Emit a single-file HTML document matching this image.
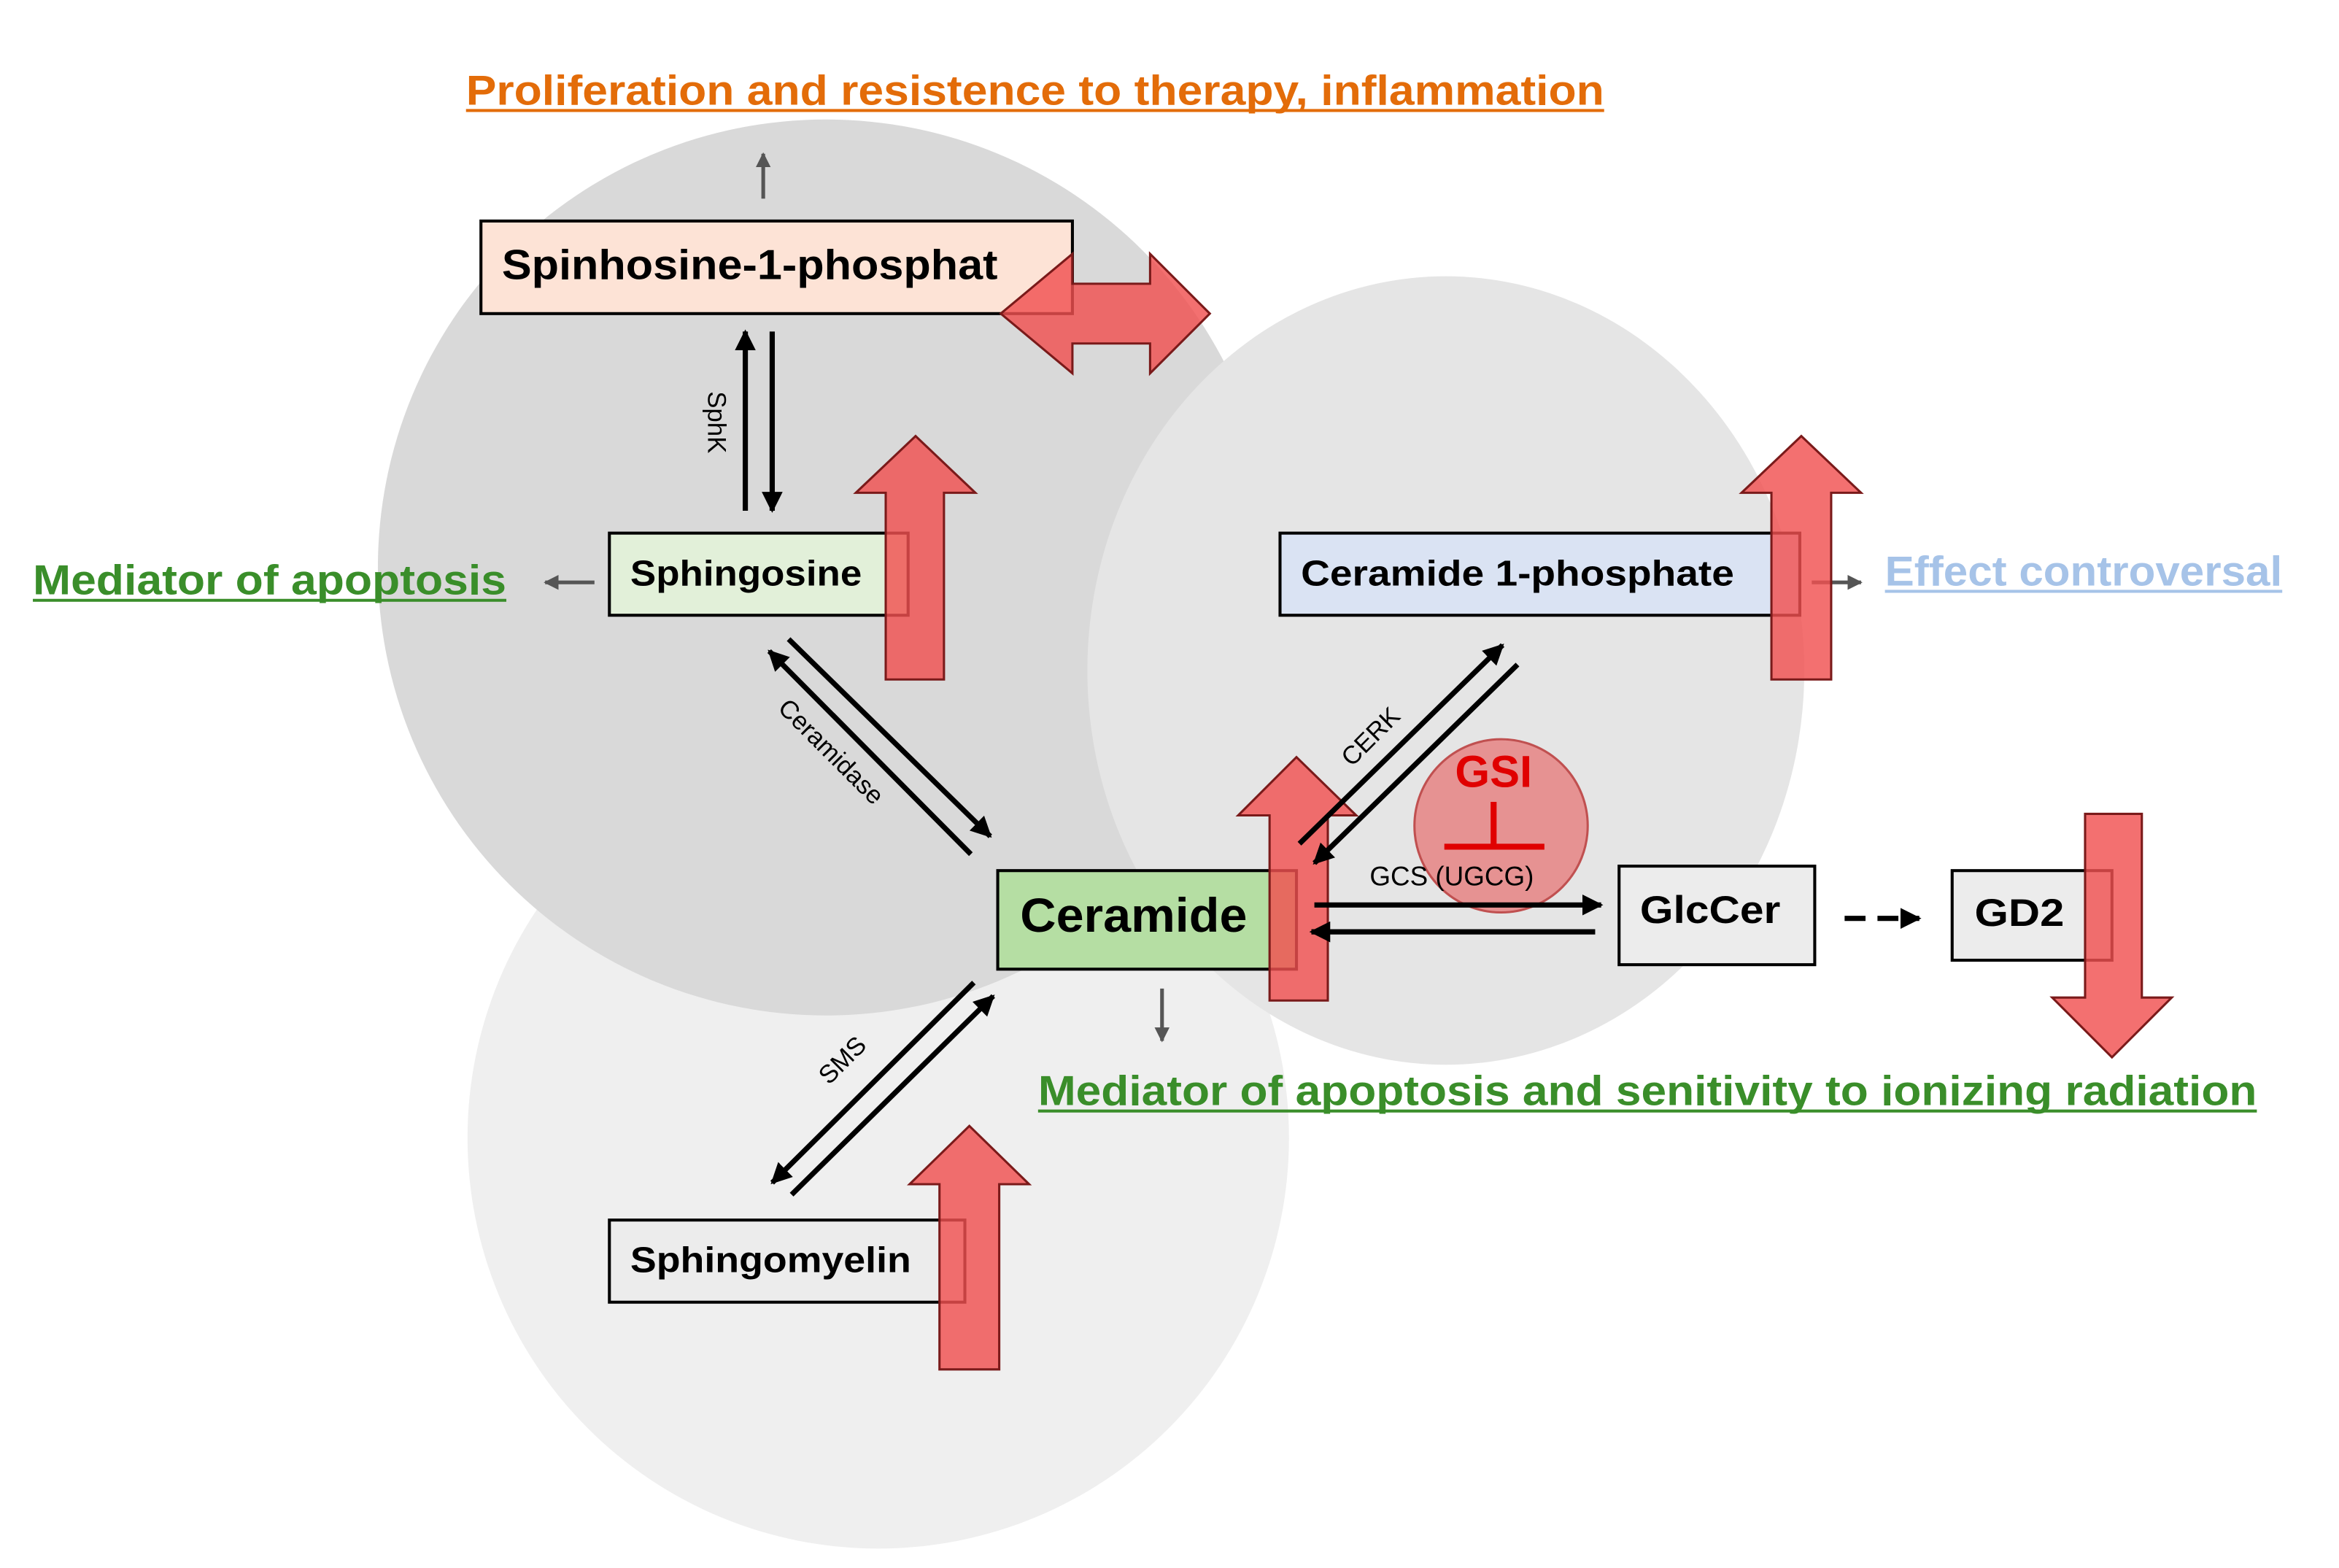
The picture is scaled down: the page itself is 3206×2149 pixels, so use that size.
<!DOCTYPE html>
<html><head><meta charset="utf-8"><style>
html,body{margin:0;padding:0;background:#fff;width:3206px;height:2149px;overflow:hidden}
svg{display:block}
text{font-family:"Liberation Sans",sans-serif;font-weight:bold}
</style></head><body>
<svg width="3206" height="2149" viewBox="0 0 1566 1050" preserveAspectRatio="none" xmlns="http://www.w3.org/2000/svg">
<defs>
<marker id="ah" viewBox="0 0 10 10" refX="9" refY="5" markerWidth="4" markerHeight="4" orient="auto"><path d="M0,0 L10,5 L0,10 z" fill="#000"/></marker>
<marker id="ag" viewBox="0 0 10 10" refX="9" refY="5" markerWidth="4" markerHeight="4" orient="auto"><path d="M0,0 L10,5 L0,10 z" fill="#555"/></marker>
</defs>
<circle cx="588" cy="762" r="275" fill="#efefef"/>
<circle cx="553" cy="380" r="300" fill="#d9d9d9"/>
<ellipse cx="968" cy="449" rx="240" ry="264" fill="#e5e5e5"/>

<text x="312" y="70" font-size="28" fill="#e36c09" textLength="762" lengthAdjust="spacingAndGlyphs">Proliferation and resistence to therapy, inflammation</text>
<line x1="312" y1="74" x2="1074" y2="74" stroke="#e36c09" stroke-width="2"/>
<text x="22" y="398" font-size="28" fill="#3a8e2a" textLength="317" lengthAdjust="spacingAndGlyphs">Mediator of apoptosis</text>
<line x1="22" y1="402" x2="339" y2="402" stroke="#3a8e2a" stroke-width="2"/>
<text x="1262" y="392" font-size="28" fill="#a6c3e8" textLength="266" lengthAdjust="spacingAndGlyphs">Effect controversal</text>
<line x1="1262" y1="396" x2="1528" y2="396" stroke="#a6c3e8" stroke-width="2"/>
<text x="695" y="740" font-size="28" fill="#3a8e2a" textLength="816" lengthAdjust="spacingAndGlyphs">Mediator of apoptosis and senitivity to ionizing radiation</text>
<line x1="695" y1="744" x2="1511" y2="744" stroke="#3a8e2a" stroke-width="2"/>

<g stroke="#555" stroke-width="2.5">
<line x1="511" y1="133" x2="511" y2="103" marker-end="url(#ag)"/>
<line x1="398" y1="390" x2="365" y2="390" marker-end="url(#ag)"/>
<line x1="1213" y1="390" x2="1246" y2="390" marker-end="url(#ag)"/>
<line x1="778" y1="662" x2="778" y2="697" marker-end="url(#ag)"/>
</g>

<g stroke="#000" stroke-width="2">
<rect x="322" y="148" width="396" height="62" fill="#fde3d6"/>
<rect x="408" y="357" width="200" height="55" fill="#e2f0d9"/>
<rect x="857" y="357" width="348" height="55" fill="#dae3f3"/>
<rect x="668" y="583" width="200" height="66" fill="#b5dea3"/>
<rect x="1084" y="580" width="131" height="66" fill="#ececec"/>
<rect x="1307" y="583" width="107" height="60" fill="#ececec"/>
<rect x="408" y="817" width="238" height="55" fill="#ececec"/>
</g>
<text x="336" y="187" font-size="28" textLength="332" lengthAdjust="spacingAndGlyphs">Spinhosine-1-phosphat</text>
<text x="422" y="392" font-size="24" textLength="155" lengthAdjust="spacingAndGlyphs">Sphingosine</text>
<text x="871" y="392" font-size="24" textLength="290" lengthAdjust="spacingAndGlyphs">Ceramide 1-phosphate</text>
<text x="683" y="624" font-size="32" textLength="152" lengthAdjust="spacingAndGlyphs">Ceramide</text>
<text x="1098" y="618" font-size="26" textLength="94" lengthAdjust="spacingAndGlyphs">GlcCer</text>
<text x="1322" y="620" font-size="26" textLength="60" lengthAdjust="spacingAndGlyphs">GD2</text>
<text x="422" y="852" font-size="24" textLength="188" lengthAdjust="spacingAndGlyphs">Sphingomyelin</text>

<g fill="rgba(240,80,80,0.82)" stroke="#7a1a1a" stroke-width="1.5">
<path d="M593,455 L593,330 L573,330 L613,292 L653,330 L632,330 L632,455 Z"/>
<path d="M1186,455 L1186,330 L1166,330 L1206,292 L1246,330 L1226,330 L1226,455 Z"/>
<path d="M850,670 L850,546 L829,546 L868,507 L908,546 L889,546 L889,670 Z"/>
<path d="M629,917 L629,793 L609,793 L649,754 L689,793 L669,793 L669,917 Z"/>
<path d="M1396,545 L1434,545 L1434,668 L1454,668 L1414,708 L1374,668 L1396,668 Z"/>
<path d="M670,210 L718,170 L718,190 L770,190 L770,170 L810,210 L770,250 L770,230 L718,230 L718,250 Z"/>
</g>

<circle cx="1005" cy="553" r="58" fill="rgba(230,90,90,0.6)" stroke="#c05050" stroke-width="1.5"/>
<text x="1000" y="527" font-size="30" fill="#e00000" text-anchor="middle">GSI</text>
<line x1="1000" y1="537" x2="1000" y2="567" stroke="#e00000" stroke-width="4"/>
<line x1="967" y1="567" x2="1034" y2="567" stroke="#e00000" stroke-width="4"/>

<g stroke="#000" stroke-width="3.5" fill="none">
<line x1="499" y1="342" x2="499" y2="222" marker-end="url(#ah)"/>
<line x1="517" y1="222" x2="517" y2="342" marker-end="url(#ah)"/>
<line x1="528" y1="428" x2="663" y2="560" marker-end="url(#ah)"/>
<line x1="650" y1="572" x2="515" y2="436" marker-end="url(#ah)"/>
<line x1="870" y1="565" x2="1006" y2="432" marker-end="url(#ah)"/>
<line x1="1016" y1="445" x2="880" y2="578" marker-end="url(#ah)"/>
<line x1="530" y1="800" x2="665" y2="667" marker-end="url(#ah)"/>
<line x1="652" y1="658" x2="517" y2="792" marker-end="url(#ah)"/>
<line x1="880" y1="606" x2="1072" y2="606" marker-end="url(#ah)"/>
<line x1="1068" y1="624" x2="878" y2="624" marker-end="url(#ah)"/>
<line x1="1235" y1="615" x2="1285" y2="615" stroke-dasharray="14,8" marker-end="url(#ah)"/>
</g>
<text font-size="17" style="font-weight:normal" transform="translate(474,262) rotate(90)">SphK</text>
<text font-size="17" style="font-weight:normal" transform="translate(520,475) rotate(45)">Ceramidase</text>
<text font-size="17" style="font-weight:normal" transform="translate(905,514) rotate(-45)">CERK</text>
<text font-size="17" style="font-weight:normal" transform="translate(555,727) rotate(-45)">SMS</text>
<text x="917" y="593" font-size="18" style="font-weight:normal">GCS (UGCG)</text>
</svg>
</body></html>
